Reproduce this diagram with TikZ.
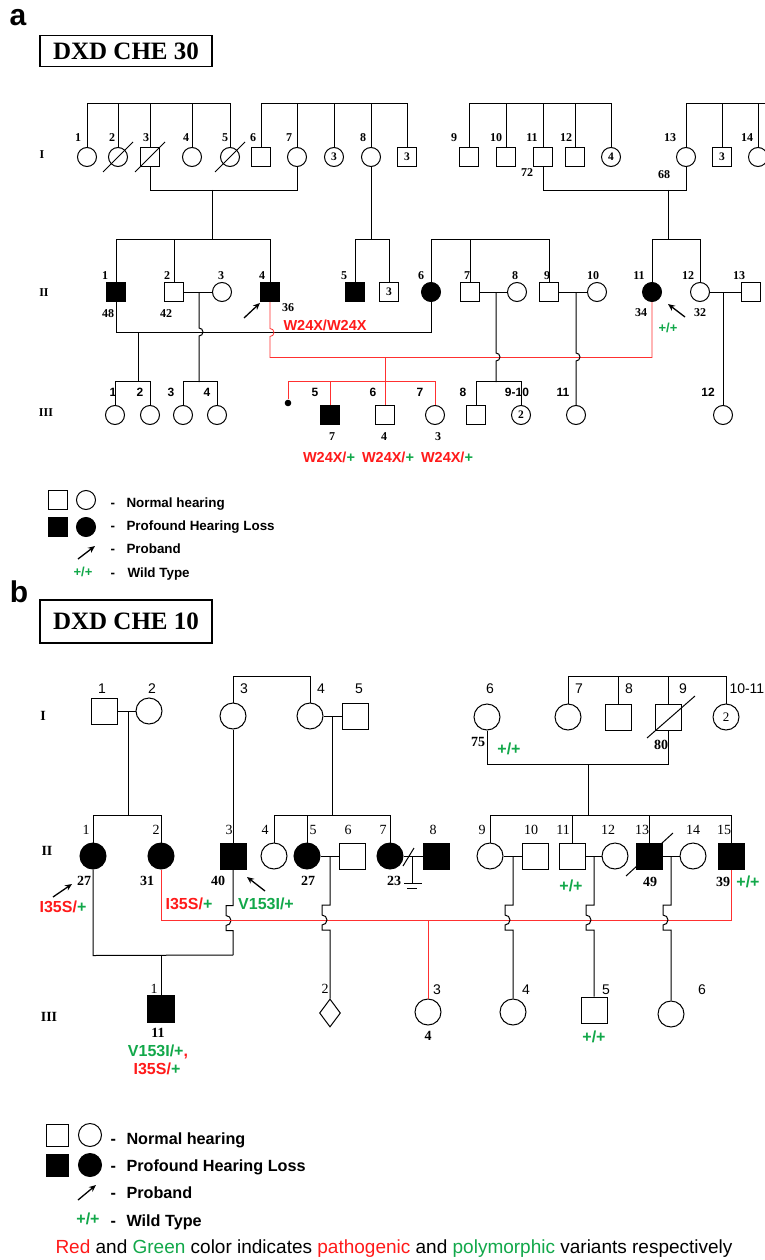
\documentclass[tikz,border=0pt]{standalone}
\usepackage{fontspec}
\setmainfont{Liberation Serif}
\setsansfont{Liberation Sans}
\usetikzlibrary{arrows.meta, shapes.geometric, calc}
\definecolor{mutred}{HTML}{FF1A1A}
\definecolor{wtgreen}{HTML}{12A84A}
\definecolor{linered}{HTML}{FF3030}

\begin{document}
\begin{tikzpicture}[
    x=1pt, y=-1pt, line width=1pt,
    % Styles
    maleA/.style={rectangle, draw, fill=white, minimum size=19pt, inner sep=0pt, font=\bfseries\fontsize{11.5}{11.5}\selectfont},
    femaleA/.style={circle, draw, fill=white, minimum size=19pt, inner sep=0pt, font=\bfseries\fontsize{11.5}{11.5}\selectfont},
    maleB/.style={rectangle, draw, fill=white, minimum size=26pt, inner sep=0pt, font=\fontsize{13}{13}\selectfont},
    femaleB/.style={circle, draw, fill=white, minimum size=26pt, inner sep=0pt, font=\fontsize{13}{13}\selectfont},
    unknownB/.style={diamond, draw, fill=white, minimum width=21pt, minimum height=28pt, inner sep=0pt},
    affected/.style={fill=black},
    titlebox/.style={rectangle, draw, line width=1.4pt, minimum width=172pt, font=\bfseries\fontsize{25}{25}\selectfont},
    panel/.style={font=\sffamily\bfseries\fontsize{30}{30}\selectfont},
    genA/.style={font=\bfseries\fontsize{12}{12}\selectfont},
    genB/.style={font=\bfseries\fontsize{14}{14}\selectfont},
    numA/.style={font=\bfseries\fontsize{12}{12}\selectfont},
    numAs/.style={font=\sffamily\bfseries\fontsize{12}{12}\selectfont},
    mutA/.style={font=\sffamily\bfseries\fontsize{14.5}{14.5}\selectfont, text=mutred},
    wtA/.style={font=\sffamily\bfseries\fontsize{13}{13}\selectfont, text=wtgreen},
    numB/.style={font=\fontsize{14}{14}\selectfont},
    numBs/.style={font=\sffamily\fontsize{14}{14}\selectfont},
    ageB/.style={font=\bfseries\fontsize{14}{14}\selectfont},
    mutB/.style={font=\sffamily\bfseries\fontsize{16}{16}\selectfont, text=mutred},
    wtB/.style={font=\sffamily\bfseries\fontsize{16}{16}\selectfont, text=wtgreen},
    legA/.style={font=\sffamily\bfseries\fontsize{13.4}{13.4}\selectfont, anchor=base west, inner sep=0pt},
    legB/.style={font=\sffamily\bfseries\fontsize{16.2}{16.2}\selectfont, anchor=base west, inner sep=0pt},
    redline/.style={draw=linered, line width=0.8pt},
    proband/.style={-{Stealth[length=7pt, width=6pt]}, line width=1.3pt}
]
\fill[white] (0,0) rectangle (764,1260);
\useasboundingbox (0,0) rectangle (764,1260);

% ==================== PANEL A: TITLE ====================
\node[panel] (pa) at (18,18) {a};
\node[titlebox, minimum height=31pt] (ta) at (126,51) {DXD CHE 30};

% ==================== PANEL A: GENERATION I ====================
\node[genA] (gaI) at (42,155) {I};
\node[femaleA] (aI1) at (87,157) {};
\node[femaleA] (aI2) at (118,157) {};
\node[maleA] (aI3) at (150,157) {};
\node[femaleA] (aI4) at (192,157) {};
\node[femaleA] (aI5) at (230,157) {};
\node[maleA] (aI6) at (261,157) {};
\node[femaleA] (aI7) at (297,157) {};
\node[femaleA] (aI7b) at (334,157) {3};
\node[femaleA] (aI8) at (371,157) {};
\node[maleA] (aI8b) at (407,157) {3};
\node[maleA] (aI9) at (469,157) {};
\node[maleA] (aI10) at (506,157) {};
\node[maleA] (aI11) at (543,157) {};
\node[maleA] (aI12) at (575,157) {};
\node[femaleA] (aI12b) at (611,157) {4};
\node[femaleA] (aI13) at (686,157) {};
\node[maleA] (aI13b) at (722,157) {3};
\node[femaleA] (aI14) at (758,157) {};

\draw ($(aI2)+(-15,15)$) -- ($(aI2)+(15,-15)$);
\draw ($(aI3)+(-15,15)$) -- ($(aI3)+(15,-15)$);
\draw ($(aI5)+(-15,15)$) -- ($(aI5)+(15,-15)$);

\node[numA] (laI1) at (78,138) {1};
\node[numA] (laI2) at (112,138) {2};
\node[numA] (laI3) at (146,138) {3};
\node[numA] (laI4) at (186,138) {4};
\node[numA] (laI5) at (225,138) {5};
\node[numA] (laI6) at (253,138) {6};
\node[numA] (laI7) at (289,138) {7};
\node[numA] (laI8) at (363,138) {8};
\node[numA] (laI9) at (454,138) {9};
\node[numA] (laI10) at (496,138) {10};
\node[numA] (laI11) at (532,138) {11};
\node[numA] (laI12) at (566,138) {12};
\node[numA] (laI13) at (670,138) {13};
\node[numA] (laI14) at (747,138) {14};
\node[numA] (agI11) at (527,173) {72};
\node[numA] (agI13) at (664,175) {68};

% sibships
\draw (aI1.north) -- ++(0,-43.5) -| (aI5.north);
\draw (aI2.north) -- ++(0,-43.5);
\draw (aI3.north) -- ++(0,-43.5);
\draw (aI4.north) -- ++(0,-43.5);
\draw (aI6.north) -- ++(0,-43.5) -| (aI8b.north);
\draw (aI7.north) -- ++(0,-43.5);
\draw (aI7b.north) -- ++(0,-43.5);
\draw (aI8.north) -- ++(0,-43.5);
\draw (aI9.north) -- ++(0,-43.5) -| (aI12b.north);
\draw (aI10.north) -- ++(0,-43.5);
\draw (aI11.north) -- ++(0,-43.5);
\draw (aI12.north) -- ++(0,-43.5);
\draw (aI13.north) -- ++(0,-43.5) -- ++(90,0);
\draw (aI13b.north) -- ++(0,-43.5);
\draw (aI14.north) -- ++(0,-43.5);

% marriages
\draw (aI3.south) -- ++(0,23.5) -| (aI7.south);
\draw (aI11.south) -- ++(0,23.5) -| (aI13.south);
\coordinate (aU37) at (212,190);
\coordinate (aU1113) at (668,190);
\coordinate (aS1) at (212,240);
\coordinate (aS5) at (371,240);
\coordinate (aS11) at (668,240);
\draw (aU37) -- (aS1);
\draw (aI8.south) -- (aS5);
\draw (aU1113) -- (aS11);

% ==================== PANEL A: GENERATION II ====================
\node[genA] (gaII) at (44,293) {II};
\node[maleA, affected] (aII1) at (116,292) {};
\node[maleA] (aII2) at (174,292) {};
\node[femaleA] (aII3) at (222,292) {};
\node[maleA, affected] (aII4) at (270,292) {};
\node[maleA, affected] (aII5) at (355,292) {};
\node[maleA] (aII5b) at (389,292) {3};
\node[femaleA, affected] (aII6) at (431,292) {};
\node[maleA] (aII7) at (470,292) {};
\node[femaleA] (aII8) at (517,292) {};
\node[maleA] (aII9) at (549,292) {};
\node[femaleA] (aII10) at (597,292) {};
\node[femaleA, affected] (aII11) at (652,292) {};
\node[femaleA] (aII12) at (700,292) {};
\node[maleA] (aII13) at (751,292) {};

\node[numA] (laII1) at (105,276) {1};
\node[numA] (laII2) at (167,276) {2};
\node[numA] (laII3) at (221,276) {3};
\node[numA] (laII4) at (262,276) {4};
\node[numA] (laII5) at (344,276) {5};
\node[numA] (laII6) at (421,276) {6};
\node[numA] (laII7) at (467,276) {7};
\node[numA] (laII8) at (515,276) {8};
\node[numA] (laII9) at (547,276) {9};
\node[numA] (laII10) at (593,276) {10};
\node[numA] (laII11) at (639,276) {11};
\node[numA] (laII12) at (688,276) {12};
\node[numA] (laII13) at (739,276) {13};
\node[numA] (agII1) at (108,314) {48};
\node[numA] (agII2) at (166,314) {42};
\node[numA] (agII4) at (288,308) {36};
\node[numA] (agII11) at (641,313) {34};
\node[numA] (agII12) at (700,313) {32};
\node[mutA] (muII4) at (325,325) {W24X/W24X};
\node[wtA] (wtII11) at (668,328) {+/+};
\coordinate (aP4) at (244,318);
\coordinate (aP11) at (685,317);
\draw[proband] (aP4) -- ++(16,-15);
\draw[proband] (aP11) -- ++(-17,-13);

% sibships
\draw (aII1.north) -- ++(0,-42.5) -| (aII4.north);
\draw (aII2.north) -- ++(0,-42.5);
\draw (aII5.north) -- ++(0,-42.5) -| (aII5b.north);
\draw (aII6.north) -- ++(0,-42.5) -| (aII9.north);
\draw (aII7.north) -- ++(0,-42.5);
\draw (aII11.north) -- ++(0,-42.5) -| (aII12.north);

% marriages
\draw (aII2.east) -- (aII3.west);
\draw (aII7.east) -- (aII8.west);
\draw (aII9.east) -- (aII10.west);
\draw (aII12.east) -- (aII13.west);
\draw (aII1.south) -- ++(0,30.5) -| (aII6.south);
\draw[redline] (aII4.south) -- ++(0,26.5) arc[start angle=90, end angle=-90, radius=4pt] -- ++(0,21) -| (aII11.south);

% ==================== PANEL A: GENERATION III ====================
\node[genA] (gaIII) at (46,413) {III};
\node[femaleA] (aIII1) at (115,415) {};
\node[femaleA] (aIII2) at (150,415) {};
\node[femaleA] (aIII3) at (183,415) {};
\node[femaleA] (aIII4) at (217,415) {};
\node[circle, fill=black, minimum size=6.6pt, inner sep=0pt] (aIIIm) at (288,403) {};
\node[maleA, affected] (aIII5) at (330,415) {};
\node[maleA] (aIII6) at (385,415) {};
\node[femaleA] (aIII7) at (435,415) {};
\node[maleA] (aIII8) at (476,415) {};
\node[femaleA] (aIII9) at (521,415) {2};
\node[femaleA] (aIII11) at (576,415) {};
\node[femaleA] (aIII12) at (723,415) {};

\node[numAs] (laIII1) at (113,392) {1};
\node[numAs] (laIII2) at (140,392) {2};
\node[numAs] (laIII3) at (171,392) {3};
\node[numAs] (laIII4) at (207,392) {4};
\node[numAs] (laIII5) at (315,392) {5};
\node[numAs] (laIII6) at (373,392) {6};
\node[numAs] (laIII7) at (420,392) {7};
\node[numAs] (laIII8) at (463,392) {8};
\node[numAs] (laIII9) at (517,392) {9-10};
\node[numAs] (laIII11) at (563,392) {11};
\node[numAs] (laIII12) at (708,392) {12};
\node[numA] (agIII5) at (332,437) {7};
\node[numA] (agIII6) at (384,437) {4};
\node[numA] (agIII7) at (438,437) {3};
\node[mutA] (muIII5) at (329,457) {W24X/\textcolor{wtgreen}{+}};
\node[mutA] (muIII6) at (388,457) {W24X/\textcolor{wtgreen}{+}};
\node[mutA] (muIII7) at (447,457) {W24X/\textcolor{wtgreen}{+}};

% descents
\coordinate (aM16) at (138,332);
\coordinate (aS16) at (138,382);
\coordinate (aM23) at (199,292);
\coordinate (aS23) at (199,382);
\coordinate (aR) at (385,357);
\coordinate (aM78) at (496,292);
\coordinate (aS78) at (496,382);
\coordinate (aM910) at (576,292);
\coordinate (aM1213) at (723,292);
\draw (aM16) -- (aS16);
\draw (aM23) -- ++(0,36) arc[start angle=90, end angle=-90, radius=4pt] -- (aS23);
\draw (aM78) -- ++(0,61) arc[start angle=90, end angle=-90, radius=4pt] -- (aS78);
\draw (aM910) -- ++(0,61) arc[start angle=90, end angle=-90, radius=4pt] -- (aIII11.north);
\draw (aM1213) -- (aIII12.north);
\draw[redline] (aR) -- (aIII6.north);

% sibships
\draw (aIII1.north) -- ++(0,-23.5) -| (aIII2.north);
\draw (aIII3.north) -- ++(0,-23.5) -| (aIII4.north);
\draw (aIII8.north) -- ++(0,-23.5) -| (aIII9.north);
\draw[redline] (aIIIm.north) -- ++(0,-17.7) -| (aIII7.north);
\draw[redline] (aIII5.north) -- ++(0,-23.5);

% ==================== PANEL A: LEGEND ====================
\node[maleA] (lgAm) at (58,500) {};
\node[femaleA] (lgAf) at (86,500) {};
\node[maleA, affected] (lgAma) at (58,527) {};
\node[femaleA, affected] (lgAfa) at (86,527) {};
\coordinate (lgAp) at (78,559);
\draw[proband] (lgAp) -- ++(17,-13);
\node[wtA] (lgAw) at (83,572) {+/+};
\node[legA] (lgAd1) at (110,507) {-};
\node[legA] (lgAd2) at (110,530) {-};
\node[legA] (lgAd3) at (110,553) {-};
\node[legA] (lgAd4) at (110,577) {-};
\node[legA] (lgAt1) at (126,507) {Normal hearing};
\node[legA] (lgAt2) at (126,530) {Profound Hearing Loss};
\node[legA] (lgAt3) at (126,553) {Proband};
\node[legA] (lgAt4) at (127,577) {Wild Type};

% ==================== PANEL B: TITLE ====================
\node[panel] (pb) at (19,592) {b};
\node[titlebox, minimum height=43pt] (tb) at (126,621.5) {DXD CHE 10};

% ==================== PANEL B: GENERATION I ====================
\node[genB] (gbI) at (43,716) {I};
\node[maleB] (bI1) at (104,711) {};
\node[femaleB] (bI2) at (149,711) {};
\node[femaleB] (bI3) at (233,716) {};
\node[femaleB] (bI4) at (310,716) {};
\node[maleB] (bI5) at (355,716) {};
\node[femaleB] (bI6) at (487,717) {};
\node[femaleB] (bI7) at (568,717) {};
\node[maleB] (bI8) at (618,717) {};
\node[maleB] (bI9) at (668,717) {};
\node[femaleB] (bI10) at (726,717) {2};
\draw ($(bI9)+(-21,21)$) -- ($(bI9)+(27,-21)$);

\node[numBs] (lbI1) at (102,689) {1};
\node[numBs] (lbI2) at (152,689) {2};
\node[numBs] (lbI3) at (244,689) {3};
\node[numBs] (lbI4) at (321,689) {4};
\node[numBs] (lbI5) at (359,689) {5};
\node[numBs] (lbI6) at (490,689) {6};
\node[numBs] (lbI7) at (579,689) {7};
\node[numBs] (lbI8) at (629,689) {8};
\node[numBs] (lbI9) at (683,689) {9};
\node[numBs, anchor=west, inner sep=0pt] (lbI10) at (729,689) {10-11};
\node[ageB] (agbI6) at (478,742) {75};
\node[wtB] (wtbI6) at (509,749) {+/+};
\node[ageB] (agbI9) at (661,745) {80};

% sibships and marriages
\draw (bI3.north) -- ++(0,-26) -| (bI4.north);
\draw (bI7.north) -- ++(0,-27) -| (bI10.north);
\draw (bI8.north) -- ++(0,-27);
\draw (bI9.north) -- ++(0,-27);
\draw (bI1.east) -- (bI2.west);
\draw (bI4.east) -- (bI5.west);
\draw (bI6.south) -- ++(0,34) -| (bI9.south);
\coordinate (bM12) at (128,711);
\coordinate (bS12) at (128,816);
\coordinate (bM45) at (332,716);
\coordinate (bS45) at (332,816);
\coordinate (bM69) at (588,764);
\coordinate (bS69) at (588,816);
\draw (bM12) -- (bS12);
\draw (bM45) -- (bS45);
\draw (bM69) -- (bS69);

% ==================== PANEL B: GENERATION II ====================
\node[genB] (gbII) at (47,851) {II};
\node[femaleB, affected] (bII1) at (93,856) {};
\node[femaleB, affected] (bII2) at (161,856) {};
\node[maleB, affected] (bII3) at (233,856) {};
\node[femaleB] (bII4) at (274,856) {};
\node[femaleB, affected] (bII5) at (307,856) {};
\node[maleB] (bII6) at (352,856) {};
\node[femaleB, affected] (bII7) at (390,856) {};
\node[maleB, affected] (bII8) at (436,856) {};
\node[femaleB] (bII9) at (490,856) {};
\node[maleB] (bII10) at (535,856) {};
\node[maleB] (bII11) at (572,856) {};
\node[femaleB] (bII12) at (615,856) {};
\node[maleB, affected] (bII13) at (649,856) {};
\node[femaleB] (bII14) at (693,856) {};
\node[maleB, affected] (bII15) at (731,856) {};
\draw ($(bII13)+(-23,20)$) -- ($(bII13)+(24,-23)$);

\node[numB] (lbII1) at (86,830) {1};
\node[numB] (lbII2) at (156,830) {2};
\node[numB] (lbII3) at (229,830) {3};
\node[numB] (lbII4) at (265,830) {4};
\node[numB] (lbII5) at (313,830) {5};
\node[numB] (lbII6) at (348,830) {6};
\node[numB] (lbII7) at (383,830) {7};
\node[numB] (lbII8) at (433,830) {8};
\node[numB] (lbII9) at (482,830) {9};
\node[numB] (lbII10) at (531,830) {10};
\node[numB] (lbII11) at (563,830) {11};
\node[numB] (lbII12) at (608,830) {12};
\node[numB] (lbII13) at (642,830) {13};
\node[numB] (lbII14) at (693,830) {14};
\node[numB] (lbII15) at (724,830) {15};
\node[ageB] (agbII1) at (84,881) {27};
\node[ageB] (agbII2) at (147,881) {31};
\node[ageB] (agbII3) at (218,881) {40};
\node[ageB] (agbII5) at (308,881) {27};
\node[ageB] (agbII7) at (394,881) {23};
\node[ageB] (agbII13) at (650,882) {49};
\node[ageB] (agbII15) at (723,882) {39};
\node[wtB] (wtbII11) at (571,886) {+/+};
\node[wtB] (wtbII15) at (748,882) {+/+};
\node[mutB] (mubII1) at (63,907) {I35S/\textcolor{wtgreen}{+}};
\node[mutB] (mubII2) at (189,904) {I35S/\textcolor{wtgreen}{+}};
\node[wtB] (mubII3) at (266,904) {V153I/+};
\coordinate (bP1) at (53,897);
\coordinate (bP3) at (265,891);
\draw[proband] (bP1) -- ++(19,-13);
\draw[proband] (bP3) -- ++(-18,-14);

% sibships
\draw (bII1.north) -- ++(0,-27) -| (bII2.north);
\draw (bI3.south) -- (bII3.north);
\draw (bII4.north) -- ++(0,-27) -| (bII7.north);
\draw (bII5.north) -- ++(0,-27);
\draw (bII9.north) -- ++(0,-27) -| (bII15.north);
\draw (bII11.north) -- ++(0,-27);
\draw (bII13.north) -- ++(0,-27);

% marriages
\draw (bII5.east) -- (bII6.west);
\draw (bII7.east) -- (bII8.west);
\draw (bII9.east) -- (bII10.west);
\draw (bII11.east) -- (bII12.west);
\draw (bII13.east) -- (bII14.west);
\coordinate (bM78) at (412,856);
\coordinate (bN78) at (412,883);
\draw ($(bM78)+(-9,10)$) -- ($(bM78)+(2,-8)$);
\draw (bM78) -- (bN78);
\draw ($(bN78)+(-8,0)$) -- ($(bN78)+(10,0)$);
\draw ($(bN78)+(-5,5)$) -- ($(bN78)+(5,5)$);
\coordinate (bJ13) at (233,955);
\draw (bII1.south) -- ++(0,86) -- (bJ13);
\draw (bII3.south) -- ++(0,36) -- ++(-7,0) -- ++(0,10) arc[start angle=90, end angle=-90, radius=5pt] -- ++(0,5) -- ++(7,0) -- (bJ13);
\draw[redline] (bII2.south) -- ++(0,51) -| (bII15.south);

% ==================== PANEL B: GENERATION III ====================
\node[genB] (gbIII) at (49,1017) {III};
\node[maleB, affected, minimum size=27pt] (bIII1) at (161,1009) {};
\node[unknownB] (bIII2) at (330,1013) {};
\node[femaleB] (bIII3) at (428,1012) {};
\node[femaleB] (bIII4) at (513,1012) {};
\node[maleB] (bIII5) at (594,1010) {};
\node[femaleB] (bIII6) at (671,1014) {};

\node[numB] (lbIII1) at (154,989) {1};
\node[numB] (lbIII2) at (325,989) {2};
\node[numBs] (lbIII3) at (437,990) {3};
\node[numBs] (lbIII4) at (526,990) {4};
\node[numBs] (lbIII5) at (606,990) {5};
\node[numBs] (lbIII6) at (702,990) {6};
\node[ageB] (agbIII1) at (158,1033) {11};
\node[ageB] (agbIII3) at (428,1036) {4};
\node[wtB] (wtbIII5) at (594,1037) {+/+};
\node[wtB] (mubIII1a) at (158,1052) {V153I/+\textcolor{mutred}{,}};
\node[mutB] (mubIII1b) at (157,1069) {I35S/\textcolor{wtgreen}{+}};

% descents
\coordinate (bM13) at (161,955);
\coordinate (bR) at (428,920);
\coordinate (bM56) at (330,856);
\coordinate (bM910) at (513,856);
\coordinate (bM1112) at (594,856);
\coordinate (bM1314) at (671,856);
\draw (bM13) -- (bIII1.north);
\draw[redline] (bR) -- (bIII3.north);
\draw (bM56) -- ++(0,49) -- ++(-8,0) -- ++(0,10) arc[start angle=90, end angle=-90, radius=5pt] -- ++(0,5) -- ++(8,0) -- (bIII2.north);
\draw (bM910) -- ++(0,49) -- ++(-8,0) -- ++(0,10) arc[start angle=90, end angle=-90, radius=5pt] -- ++(0,5) -- ++(8,0) -- (bIII4.north);
\draw (bM1112) -- ++(0,49) -- ++(-8,0) -- ++(0,10) arc[start angle=90, end angle=-90, radius=5pt] -- ++(0,5) -- ++(8,0) -- (bIII5.north);
\draw (bM1314) -- ++(0,49) -- ++(-8,0) -- ++(0,10) arc[start angle=90, end angle=-90, radius=5pt] -- ++(0,5) -- ++(8,0) -- (bIII6.north);

% ==================== PANEL B: LEGEND ====================
\node[maleB, minimum size=22pt] (lgBm) at (57,1135) {};
\node[femaleB, minimum size=23pt] (lgBf) at (90,1135) {};
\node[maleB, affected, minimum size=22pt] (lgBma) at (57,1165) {};
\node[femaleB, affected, minimum size=23pt] (lgBfa) at (90,1165) {};
\coordinate (lgBp) at (78,1200);
\draw[proband] (lgBp) -- ++(18,-15);
\node[wtB] (lgBw) at (88,1219) {+/+};
\node[legB] (lgBd1) at (110,1144) {-};
\node[legB] (lgBd2) at (110,1171) {-};
\node[legB] (lgBd3) at (110,1198) {-};
\node[legB] (lgBd4) at (110,1226) {-};
\node[legB] (lgBt1) at (126,1144) {Normal hearing};
\node[legB] (lgBt2) at (126,1171) {Profound Hearing Loss};
\node[legB] (lgBt3) at (126,1198) {Proband};
\node[legB] (lgBt4) at (126,1226) {Wild Type};

\node[font=\sffamily\fontsize{19}{19}\selectfont] (note) at (394,1249) {\textcolor{mutred}{Red} and \textcolor{wtgreen}{Green} color indicates \textcolor{mutred}{pathogenic} and \textcolor{wtgreen}{polymorphic} variants respectively};

\end{tikzpicture}
\end{document}
